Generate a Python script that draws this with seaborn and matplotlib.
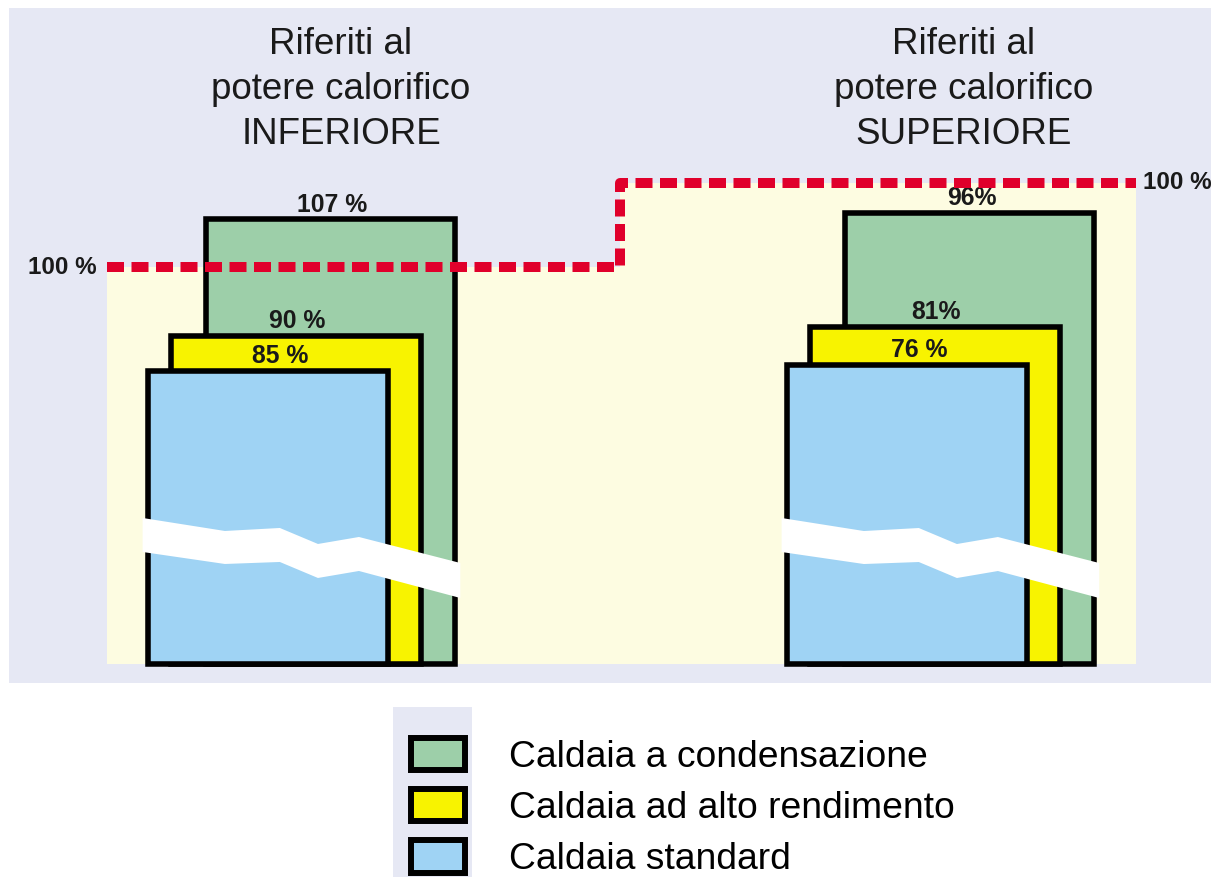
import matplotlib
matplotlib.use("Agg")
import matplotlib.pyplot as plt
import seaborn as sns
from matplotlib.patches import Patch, Rectangle, Polygon
from matplotlib.lines import Line2D

# ---------------- data ----------------
series = ["Caldaia a condensazione", "Caldaia ad alto rendimento", "Caldaia standard"]
panel_titles = ["Riferiti al\npotere calorifico\nINFERIORE",
                "Riferiti al\npotere calorifico\nSUPERIORE"]
values_inferiore = [107, 90, 85]
values_superiore = [96, 81, 76]
labels_inferiore = ["107 %", "90 %", "85 %"]
labels_superiore = ["96%", "81%", "76 %"]
reference_value = 100
reference_label = "100 %"

# ---------------- style ----------------
sns.set_theme(style="white")
plt.rcParams["font.family"] = ["Liberation Sans", "DejaVu Sans"]

LAV = "#e6e8f4"
CREAM = "#fdfce1"
RED = "#e0002b"
colors = ["#9dcfa9", "#f8f300", "#9fd3f4"]
TXT = "#1a1a1a"

W, H = 1211, 877
fig = plt.figure(figsize=(W / 100, H / 100), dpi=100)
fig.patch.set_facecolor("white")


def fx(px):
    return px / W


def fy(py):
    return 1 - py / H


# layout of the two panels (broken value axis, own offset per panel)
panels = [
    dict(x0=9, w=611, ylim=(39.5, 137.78), base=42.27, xlim=(-0.4516, 0.5098),
         zone=(-0.2974, 0.5098), title_x=0.0708),
    dict(x0=620, w=591, ylim=(34.12, 123.0), base=36.62, xlim=(-0.4957, 0.4344),
         zone=(-0.4957, 0.3171), title_x=0.0448),
]
offsets = [0.0543, 0.0, -0.0445]
widths = [0.3926, 0.394, 0.378]
label_dx_pt = [1.4, 0.7, 9.0]
BAR_LW = 4.0

panel_values = [values_inferiore, values_superiore]
panel_labels = [labels_inferiore, labels_superiore]

axes = []
for i, cfg in enumerate(panels):
    ax = fig.add_axes([fx(cfg["x0"]), fy(683), cfg["w"] / W, 675 / H])
    axes.append(ax)
    ax.set_facecolor(LAV)
    base = cfg["base"]
    vals = panel_values[i]
    labs = panel_labels[i]
    # light reference zone under the 100 % line
    ax.fill_between(list(cfg["zone"]), base, reference_value, color=CREAM, lw=0, zorder=0.5)
    for k in range(3):
        sns.barplot(x=[offsets[k]], y=[vals[k]], native_scale=True, width=widths[k],
                    color=colors[k], saturation=1, edgecolor="black", linewidth=BAR_LW,
                    errorbar=None, orient="x", ax=ax)
        p = ax.patches[-1]
        p.set_y(base)
        p.set_height(vals[k] - base)
        p.set_joinstyle("miter")
        p.set_zorder(2 + 0.1 * k)
        ax.annotate(labs[k], xy=(offsets[k], vals[k]), xytext=(label_dx_pt[k], 5.6),
                    textcoords="offset points", ha="center", va="baseline",
                    fontsize=17.8, fontweight="bold", color=TXT, zorder=5)
    ax.set_xlim(*cfg["xlim"])
    ax.set_ylim(*cfg["ylim"])
    ax.set_xticks([])
    ax.set_yticks([])
    ax.set_xlabel("")
    ax.set_ylabel("")
    for s in ax.spines.values():
        s.set_visible(False)
    ax.text(cfg["title_x"], (683 - 89.5) / 675, panel_titles[i], transform=ax.get_xaxis_transform(),
            ha="center", va="center", multialignment="center", fontsize=26.5,
            color=TXT, linespacing=1.37)

axL, axR = axes
# reference labels
axL.annotate(reference_label, xy=(panels[0]["zone"][0], reference_value), xytext=(-7.2, 0),
             textcoords="offset points", ha="right", va="center", fontsize=17.5,
             fontweight="bold", color=TXT, annotation_clip=False)
axR.annotate(reference_label, xy=(panels[1]["zone"][1], reference_value), xytext=(5.0, 0),
             textcoords="offset points", ha="left", va="center", fontsize=17.5,
             fontweight="bold", color=TXT, annotation_clip=False)

# red dashed 100 % line (continuous across both panels)
inv = fig.transFigure.inverted()
pts = [axL.transData.transform((panels[0]["zone"][0], reference_value)),
       axL.transData.transform((panels[0]["zone"][1], reference_value)),
       axR.transData.transform((panels[1]["zone"][0], reference_value)),
       axR.transData.transform((panels[1]["zone"][1], reference_value))]
pts = inv.transform(pts)
fig.add_artist(Line2D(pts[:, 0], pts[:, 1], transform=fig.transFigure, color=RED,
                      lw=7.2, linestyle=(0, (1.7, 0.75)), dash_capstyle="butt",
                      solid_joinstyle="miter", zorder=3))

# white "break" band across each group of bars
fracs = [0.0, 0.259, 0.432, 0.552, 0.681, 1.0]
top_px = [146, 133, 136, 120, 127, 101]
bot_px = [112, 100, 102, 86, 93, 66]
for ax, cfg in zip(axes, panels):
    xl = ax.transData.transform((offsets[2] - widths[2] / 2, cfg["base"]))
    xr = ax.transData.transform((offsets[0] + widths[0] / 2, cfg["base"]))
    x0 = xl[0] - 5
    x1 = xr[0] + 5
    yb = xl[1]
    poly = [(x0 + f * (x1 - x0), yb + t) for f, t in zip(fracs, top_px)]
    poly += [(x0 + f * (x1 - x0), yb + b) for f, b in reversed(list(zip(fracs, bot_px)))]
    poly = inv.transform(poly)
    fig.add_artist(Polygon(poly, closed=True, transform=fig.transFigure,
                           facecolor="white", edgecolor="none", zorder=4))

# legend
fig.add_artist(Rectangle((fx(393), 0), (472 - 393) / W, (877 - 707) / H,
                         transform=fig.transFigure, facecolor=LAV, edgecolor="none", zorder=0))
handles = [Patch(facecolor=c, edgecolor="black", linewidth=4.3, joinstyle="miter") for c in colors]
fig.legend(handles=handles, labels=series, loc="upper left",
           bbox_to_anchor=(fx(411), fy(737.5)), frameon=False, fontsize=26.8,
           handlelength=1.45, handleheight=0.97, handletextpad=1.17,
           labelspacing=0.38, borderpad=0, borderaxespad=0, labelcolor="black")

fig.savefig("out.png", dpi=100, facecolor="white")
